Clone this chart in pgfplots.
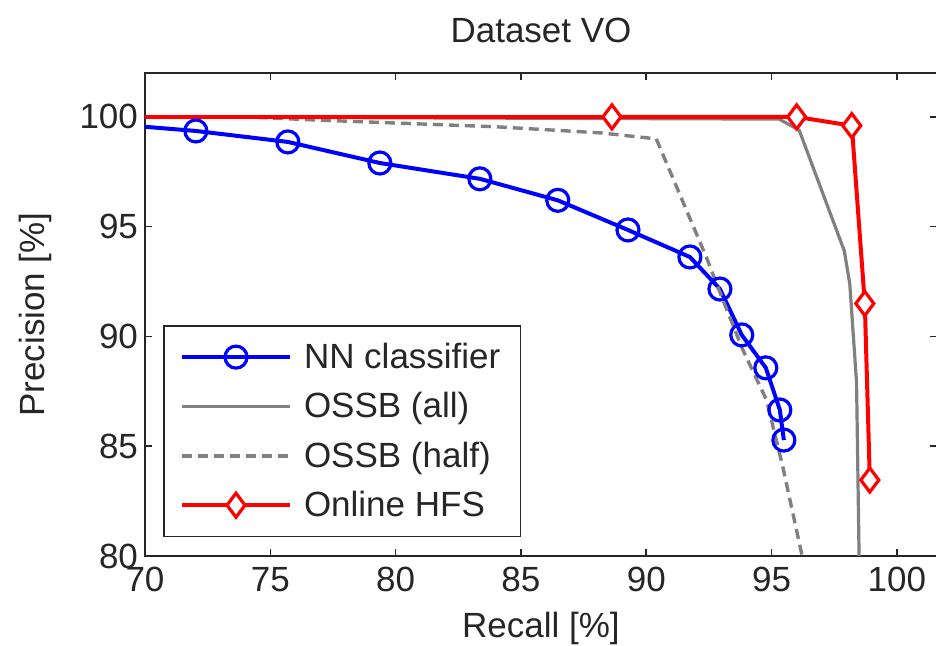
\documentclass[border=0pt]{standalone}
\usepackage{pgfplots}
\pgfplotsset{compat=1.18}
\usepackage{fontspec}
\setmainfont{Liberation Sans}
\definecolor{axgray}{RGB}{38,38,38}
\definecolor{lgray}{RGB}{128,128,128}
\begin{document}
\begin{tikzpicture}
\begin{axis}[
  name=ax,
  scale only axis,
  width=396pt, height=241.5pt,
  xmin=70, xmax=101.6, ymin=80, ymax=102,
  xtick={70,75,...,100}, ytick={80,85,...,100},
  tick align=inside, major tick length=3.5pt,
  axis line style={line width=0.8pt, color=axgray},
  every tick/.style={line width=0.8pt, color=axgray},
  /pgf/number format/assume math mode=true,
  every tick label/.append style={font=\fontsize{17.5}{20}\selectfont, text=axgray},
  xticklabel style={yshift=-2pt},
  title={Dataset VO},
  title style={font=\fontsize{17.5}{20}\selectfont, at={(0.5,1.064)}, anchor=center, text=axgray},
  xlabel={Recall [\%]},
  xlabel style={font=\fontsize{17.5}{20}\selectfont, at={(0.5,-0.149)}, anchor=center, text=axgray},
  ylabel={Precision [\%]},
  ylabel style={font=\fontsize{17.5}{20}\selectfont, at={(-0.1389,0.5)}, anchor=center, text=axgray},
  legend image code/.code={\draw[mark repeat=2,mark phase=2,#1] plot coordinates {(0pt,0pt) (27pt,0pt) (54pt,0pt)};},
  legend style={at={(0.023,0.478)}, anchor=north west, font=\fontsize{17.5}{20}\selectfont,
    draw=axgray, line width=0.8pt, inner xsep=8pt, inner ysep=6.5pt, row sep=6.5pt,
    text=axgray, /tikz/every odd column/.append style={column sep=4pt}},
  legend cell align=left,
]
\addplot[blue, line width=2pt, forget plot] coordinates {(70,99.55)(72.03,99.36)};
\addplot[blue, line width=2pt, mark=o, mark size=5.5pt, mark options={line width=1.6pt, fill=white, solid}]
  coordinates {(72.03,99.36)(75.7,98.86)(79.37,97.9)(83.36,97.18)(86.47,96.2)(89.27,94.85)
  (91.74,93.62)(92.94,92.16)(93.81,90.07)(94.77,88.57)(95.33,86.65)(95.49,85.28)};
\addlegendentry{NN classifier}
\addplot[lgray, line width=1.6pt]
  coordinates {(70,100)(95.3,99.9)(96.1,99.4)(97.9,93.9)(98.12,92.4)(98.39,87.9)(98.49,80.1)(98.5,79)};
\addlegendentry{OSSB (all)}
\addplot[lgray, line width=1.7pt, dash pattern=on 5pt off 3pt]
  coordinates {(70,100)(74,100)(77,99.85)(84,99.55)(88.2,99.27)(90.4,99.0)(92.4,93.6)(93.06,91.66)
  (93.85,89.4)(94.8,87.1)(95.45,84.05)(96.2,80.1)(96.3,79.5)};
\addlegendentry{OSSB (half)}
\addplot[red, line width=2pt, forget plot] coordinates {(70,100)(88.63,100)};
\addplot[red, line width=2pt, mark=diamond*, mark size=6pt, mark options={line width=1.6pt, fill=white, solid}]
  coordinates {(88.63,100)(96.0,100)(98.2,99.6)(98.72,91.5)(98.92,83.46)};
\addlegendentry{Online HFS}
\end{axis}
\pgfresetboundingbox
\path ([xshift=-72.5pt,yshift=-45pt]ax.south west) rectangle ([xshift=-0.5pt,yshift=36.5pt]ax.north east);
\end{tikzpicture}
\end{document}
